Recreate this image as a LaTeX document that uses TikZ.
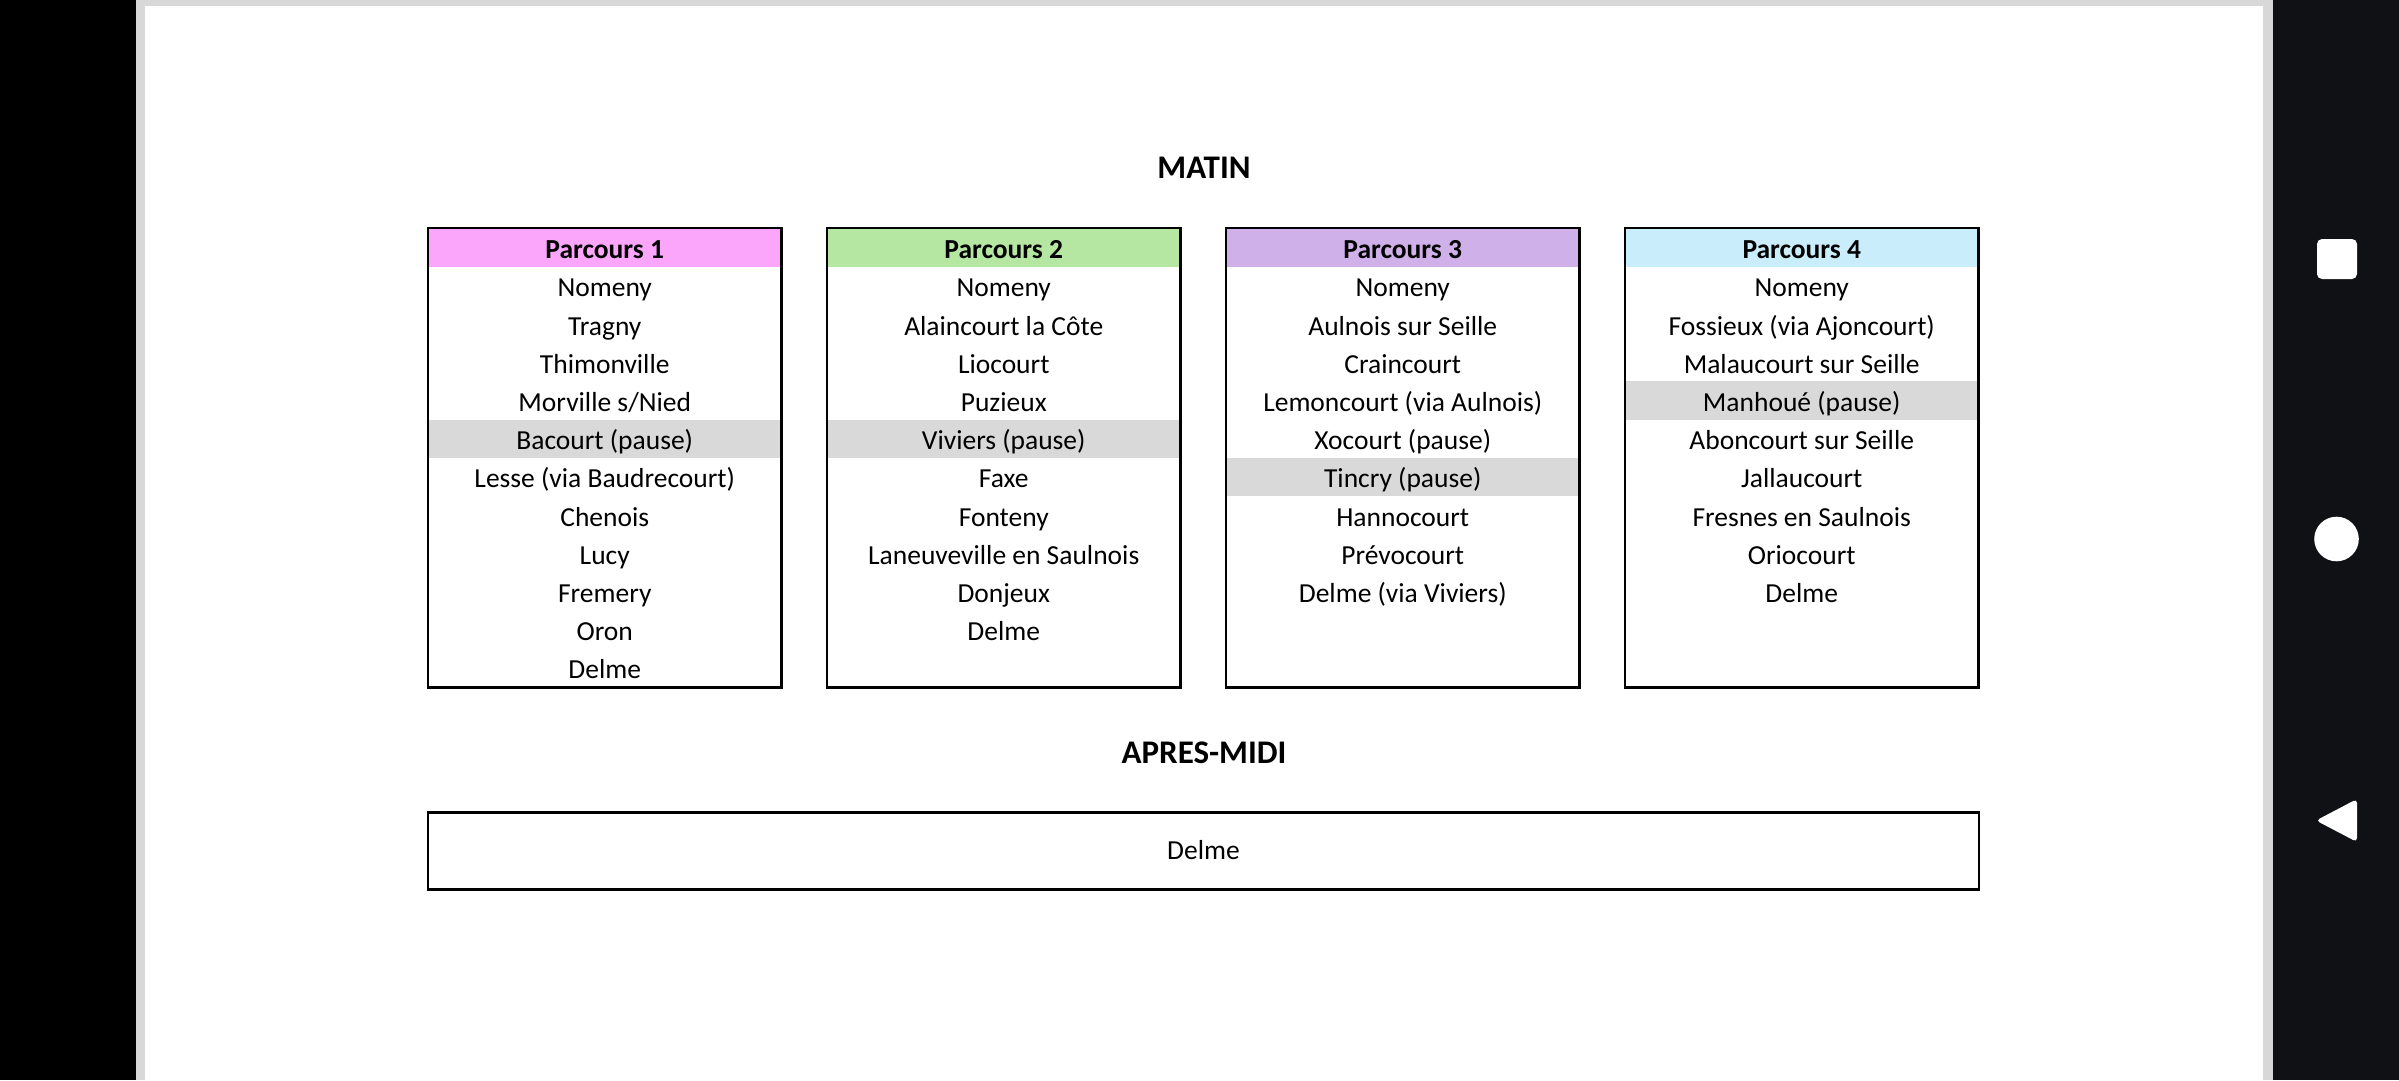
\documentclass[tikz,border=0pt]{standalone}
\usepackage{fontspec}
\setmainfont{Carlito}
\definecolor{hpink}{HTML}{FBA5FB}
\definecolor{hgreen}{HTML}{B5E6A2}
\definecolor{hpurple}{HTML}{D0B0E8}
\definecolor{hblue}{HTML}{CAEDFB}
\definecolor{pausegray}{HTML}{D9D9D9}
\definecolor{pageedge}{HTML}{D8D8D8}
\definecolor{navdark}{HTML}{101114}
\newcommand\cellfont{\fontsize{27.5pt}{33pt}\selectfont}
\newcommand\headfont{\fontsize{27.5pt}{33pt}\selectfont\bfseries}
\newcommand\titlefont{\fontsize{33pt}{40pt}\selectfont\bfseries}
\tikzset{
  cell/.style={minimum width=353.5pt, minimum height=38.2pt, inner sep=0pt,
    text height=27.8pt, text depth=6pt, font=\cellfont},
  headcell/.style={cell, minimum height=38.8pt, font=\headfont},
  frame/.style={draw=black, line width=2.5pt, inner sep=0pt,
    minimum width=353.5pt, minimum height=459.4pt},
  title/.style={anchor=base, font=\titlefont, inner sep=0pt},
  icon/.style={fill=white, draw=none},
}
\begin{document}
\begin{tikzpicture}[x=1pt,y=-1pt]
\useasboundingbox (0,0) rectangle (2399,1080);
% screen background
\fill[black] (0,0) rectangle (136,1080);
\fill[pageedge] (136,0) rectangle (2273,1080);
\fill[white] (145,6) rectangle (2263,1080);
\fill[navdark] (2273,0) rectangle (2399,1080);
% navigation icons
\fill[icon, rounded corners=5pt] (2317,239) rectangle (2357,279);
\fill[icon] (2336.5,539) circle (22.3pt);
\fill[icon, rounded corners=4pt] (2316,820.5) -- (2357,799) -- (2357,842) -- cycle;

% titles
\node[title] (matin) at (1204,178) {MATIN};
\node[title] (apres) at (1204,763.3) {APRES-MIDI};

% column 1
\node[headcell, fill=hpink] (h1) at (604.75,247.4) {Parcours 1};
\foreach \t [count=\k] in {Nomeny, Tragny, Thimonville, Morville s/Nied, Bacourt (pause),
  Lesse (via Baudrecourt), Chenois, Lucy, Fremery, Oron, Delme}{
  \ifnum\k=5 \def\cf{pausegray}\else\def\cf{white}\fi
  \node[cell, fill=\cf] (a\k) at (604.75,{266.8+(\k-0.5)*38.2}) {\t};
}
% column 2
\node[headcell, fill=hgreen] (h2) at (1003.75,247.4) {Parcours 2};
\foreach \t [count=\k] in {Nomeny, Alaincourt la Côte, Liocourt, Puzieux, Viviers (pause),
  Faxe, Fonteny, Laneuveville en Saulnois, Donjeux, Delme}{
  \ifnum\k=5 \def\cf{pausegray}\else\def\cf{white}\fi
  \node[cell, fill=\cf] (b\k) at (1003.75,{266.8+(\k-0.5)*38.2}) {\t};
}
% column 3
\node[headcell, fill=hpurple] (h3) at (1402.75,247.4) {Parcours 3};
\foreach \t [count=\k] in {Nomeny, Aulnois sur Seille, Craincourt, Lemoncourt (via Aulnois),
  Xocourt (pause), Tincry (pause), Hannocourt, Prévocourt, Delme (via Viviers)}{
  \ifnum\k=6 \def\cf{pausegray}\else\def\cf{white}\fi
  \node[cell, fill=\cf] (c\k) at (1402.75,{266.8+(\k-0.5)*38.2}) {\t};
}
% column 4
\node[headcell, fill=hblue] (h4) at (1801.75,247.4) {Parcours 4};
\foreach \t [count=\k] in {Nomeny, Fossieux (via Ajoncourt), Malaucourt sur Seille, Manhoué (pause),
  Aboncourt sur Seille, Jallaucourt, Fresnes en Saulnois, Oriocourt, Delme}{
  \ifnum\k=4 \def\cf{pausegray}\else\def\cf{white}\fi
  \node[cell, fill=\cf] (d\k) at (1801.75,{266.8+(\k-0.5)*38.2}) {\t};
}
% frames
\foreach \x [count=\i] in {604.75,1003.75,1402.75,1801.75}{
  \node[frame] (box\i) at (\x,457.7) {};
}
% afternoon
\node[draw=black, line width=2.5pt, inner sep=0pt, minimum width=1551pt, minimum height=76.6pt,
  text height=23pt, text depth=6pt, font=\cellfont] (pm) at (1203.5,851) {Delme};
\end{tikzpicture}
\end{document}
